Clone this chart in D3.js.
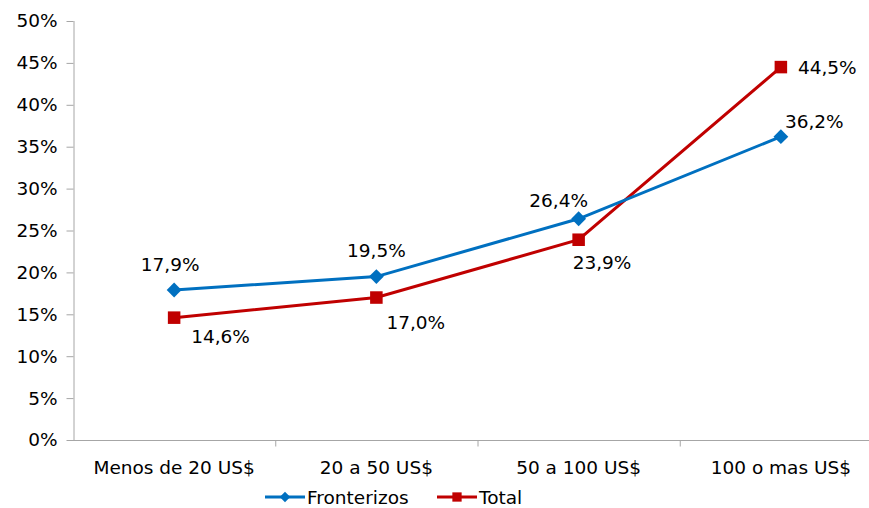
<!DOCTYPE html>
<html>
<head>
<meta charset="utf-8">
<script src="https://cdn.jsdelivr.net/npm/d3@7"></script>
<style>
  body { margin: 0; background: #fff; }
  text { font-family: "DejaVu Sans", Verdana, sans-serif; fill: #000; }
</style>
</head>
<body>
<div id="container"></div>
<script>
/* CONSTANTS AND GLOBALS */
const width = 869,
  height = 508,
  margin = { top: 21, bottom: 68, left: 73, right: -13 },
  fontSize = "18.5px";

// data
const categories = ["Menos de 20 US$", "20 a 50 US$", "50 a 100 US$", "100 o mas US$"];
const fronterizos = [17.9, 19.5, 26.4, 36.2];
const total = [14.6, 17.0, 23.9, 44.5];
const yTicks = [0, 5, 10, 15, 20, 25, 30, 35, 40, 45, 50];

const fmt = v => d3.format(".1f")(v).replace(".", ",") + "%";

const svg = d3.select("#container")
  .append("svg")
  .attr("width", width)
  .attr("height", height);

// SCALES
const xScale = d3.scaleBand()
  .domain(categories)
  .range([margin.left, width - margin.right]);

const yScale = d3.scaleLinear()
  .domain([0, 50])
  .range([height - margin.bottom, margin.top]);

// AXES
const yAxis = d3.axisLeft(yScale)
  .tickValues(yTicks)
  .tickSize(7)
  .tickPadding(9)
  .tickFormat(d => d + "%");

const yAxisGroup = svg.append("g")
  .attr("transform", `translate(${margin.left + 0.5}, 0)`)
  .call(yAxis);
yAxisGroup.selectAll("line, path").attr("stroke", "#a6a6a6");
yAxisGroup.select(".domain").attr("d", `M0.5,${yScale(50)}V${yScale(0)}`);
yAxisGroup.selectAll("text").style("font-size", fontSize).attr("fill", "#000");

const xAxisGroup = svg.append("g")
  .attr("transform", `translate(0, ${yScale(0) + 0.5})`);
xAxisGroup.append("line")
  .attr("x1", margin.left).attr("x2", width)
  .attr("stroke", "#a6a6a6");
xAxisGroup.selectAll(".tk")
  .data(categories.slice(1))
  .join("line")
  .attr("class", "tk")
  .attr("x1", d => xScale(d) + 0.5).attr("x2", d => xScale(d) + 0.5)
  .attr("y1", 0).attr("y2", 6)
  .attr("stroke", "#a6a6a6");
xAxisGroup.selectAll(".lbl")
  .data(categories)
  .join("text")
  .attr("class", "lbl")
  .attr("x", d => xScale(d) + xScale.bandwidth() / 2)
  .attr("y", 33)
  .attr("text-anchor", "middle")
  .style("font-size", fontSize)
  .text(d => d);

const cx = d => xScale(d) + xScale.bandwidth() / 2;

const lineGen = d3.line()
  .x(d => cx(d.cat))
  .y(d => yScale(d.v));

const series = [
  { name: "Fronterizos", values: fronterizos, color: "#0070c0", shape: "diamond" },
  { name: "Total", values: total, color: "#c00000", shape: "square" }
];

// label offsets [dx, dy, anchor] per point
const labelPos = {
  Fronterizos: [[-4, -19, "middle"], [0, -20, "middle"], [-20, -12, "middle"], [4, -9, "start"]],
  Total: [[17, 25, "start"], [10, 31, "start"], [-6, 29, "start"], [17, 7, "start"]]
};

series.slice().reverse().forEach(s => {
  const pts = categories.map((c, i) => ({ cat: c, v: s.values[i] }));
  svg.append("path")
    .datum(pts)
    .attr("fill", "none")
    .attr("stroke", s.color)
    .attr("stroke-width", 3)
    .attr("d", lineGen);
});

series.forEach(s => {
  const pts = categories.map((c, i) => ({ cat: c, v: s.values[i], i }));
  const sym = s.shape === "diamond"
    ? d3.symbol().type(d3.symbolDiamond2).size(140)
    : d3.symbol().type(d3.symbolSquare2).size(200);
  svg.selectAll(".m-" + s.name)
    .data(pts)
    .join("path")
    .attr("transform", d => `translate(${cx(d.cat)}, ${yScale(d.v)})`)
    .attr("d", sym)
    .attr("fill", s.color);
  svg.selectAll(".l-" + s.name)
    .data(pts)
    .join("text")
    .attr("x", d => cx(d.cat) + labelPos[s.name][d.i][0])
    .attr("y", d => yScale(d.v) + labelPos[s.name][d.i][1])
    .attr("text-anchor", d => labelPos[s.name][d.i][2])
    .style("font-size", fontSize)
    .text(d => fmt(d.v));
});

// LEGEND
const legend = svg.append("g").attr("transform", "translate(265, 497)");
series.forEach((s, i) => {
  const g = legend.append("g").attr("transform", `translate(${i * 172}, 0)`);
  g.append("line").attr("x1", 0).attr("x2", 40).attr("stroke", s.color).attr("stroke-width", 3);
  g.append("path")
    .attr("transform", "translate(20, 0)")
    .attr("d", s.shape === "diamond"
      ? d3.symbol().type(d3.symbolDiamond2).size(70)()
      : d3.symbol().type(d3.symbolSquare2).size(110)())
    .attr("fill", s.color);
  g.append("text").attr("x", 42).attr("y", 7).style("font-size", fontSize).text(s.name);
});
</script>
</body>
</html>
